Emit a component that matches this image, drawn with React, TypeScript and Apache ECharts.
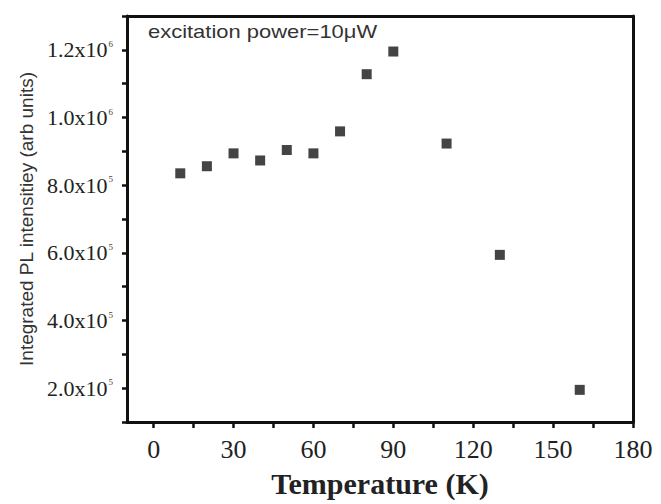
import React, { useEffect, useRef } from "react";
import * as echarts from "echarts";

const temperatures = [10, 20, 30, 40, 50, 60, 70, 80, 90, 110, 130, 160];
const intensities = [835000, 856000, 894000, 873000, 904000, 894000, 959000, 1128000, 1195000, 923000, 594000, 195000];
const xLabelValues = [0, 30, 60, 90, 120, 150, 180];
const xTickValues = [0, 15, 30, 45, 60, 75, 90, 105, 120, 135, 150, 165, 180];
const yLabelValues = [200000, 400000, 600000, 800000, 1000000, 1200000];
const yTickValues = [100000, 200000, 300000, 400000, 500000, 600000, 700000, 800000, 900000, 1000000, 1100000, 1200000, 1300000];
const annotation = "excitation power=10\u03bcW";
const xTitle = "Temperature (K)";
const yTitle = "Integrated PL intensitiey (arb units)";

function sciLabel(v: number): string {
  const exp = Math.floor(Math.log10(v) + 1e-9);
  const mant = v / Math.pow(10, exp);
  return `{m|${mant.toFixed(1)}x10}{e|${exp}}`;
}

export default function App() {
  const ref = useRef<HTMLDivElement>(null);
  useEffect(() => {
    document.body.style.margin = "0";
    if (!ref.current) return;
    const chart = echarts.init(ref.current, null, { renderer: "svg" });
    const axisColor = "#111";
    const frameAxis = {
      type: "value",
      axisLine: { show: true, onZero: false, lineStyle: { color: axisColor, width: 3, opacity: 1 } },
      axisTick: { show: false },
      axisLabel: { show: false },
      splitLine: { show: false },
    };
    chart.setOption({
      animation: false,
      backgroundColor: "#fff",
      grid: {
        left: 127,
        right: 28,
        top: 16,
        bottom: 82,
        show: false,
      },
      xAxis: [
        {
          type: "value",
          min: -10,
          max: 180,
          name: xTitle,
          nameLocation: "middle",
          nameGap: 46,
          nameTextStyle: {
            fontFamily: "'Liberation Serif', serif",
            fontWeight: "bold",
            fontSize: 30,
            color: "#222",
          },
          axisLine: { show: true, onZero: false, lineStyle: { color: axisColor, width: 3, opacity: 1 } },
          axisTick: {
            show: true,
            inside: false,
            length: 6,
            customValues: xTickValues,
            lineStyle: { color: axisColor, width: 2.5, opacity: 1 },
          },
          axisLabel: {
            customValues: xLabelValues,
            margin: 14,
            fontFamily: "'Liberation Serif', serif",
            fontSize: 26,
            color: "#222",
          },
          splitLine: { show: false },
        },
        { ...frameAxis, position: "top", min: -10, max: 180 },
      ],
      yAxis: [
        {
          type: "value",
          min: 100000,
          max: 1300000,
          name: yTitle,
          nameLocation: "middle",
          nameGap: 88,
          nameTextStyle: {
            fontFamily: "'Liberation Sans', sans-serif",
            fontSize: 19,
            color: "#333",
          },
          axisLine: { show: true, onZero: false, lineStyle: { color: axisColor, width: 3, opacity: 1 } },
          axisTick: {
            show: true,
            inside: false,
            length: 5,
            customValues: yTickValues,
            lineStyle: { color: axisColor, width: 2.5, opacity: 1 },
          },
          axisLabel: {
            customValues: yLabelValues,
            margin: 14,
            formatter: (v: number) => sciLabel(v),
            rich: {
              m: {
                fontFamily: "'Liberation Serif', serif",
                fontSize: 22,
                color: "#222",
              },
              e: {
                fontFamily: "'Liberation Serif', serif",
                fontSize: 9,
                color: "#444",
                padding: [0, 0, 12, 1],
              },
            },
          },
          splitLine: { show: false },
        },
        { ...frameAxis, position: "right", min: 100000, max: 1300000 },
      ],
      graphic: [
        {
          type: "text",
          x: 148,
          y: 32,
          scaleX: 1.22,
          style: {
            text: annotation,
            fontFamily: "'Liberation Sans', sans-serif",
            fontSize: 18,
            fill: "#333",
            verticalAlign: "middle",
          },
        },
      ],
      series: [
        {
          type: "scatter",
          symbol: "rect",
          symbolSize: 10,
          itemStyle: { color: "#151515" },
          data: temperatures.map((t, i) => [t, intensities[i]]),
        },
      ],
    });
    return () => chart.dispose();
  }, []);
  return <div ref={ref} style={{ width: 661, height: 504 }} />;
}
